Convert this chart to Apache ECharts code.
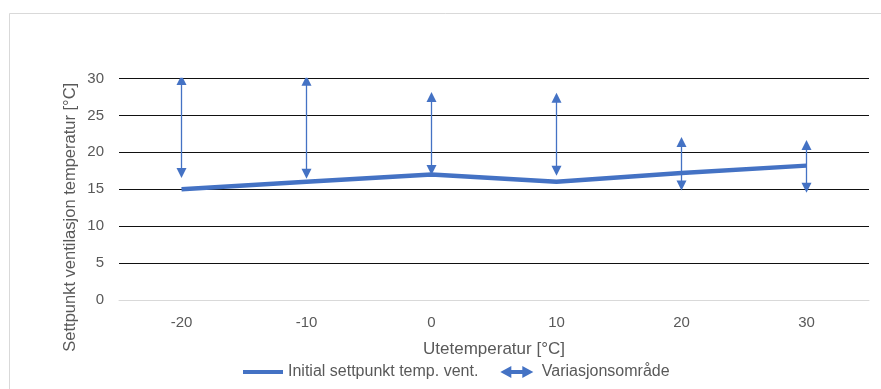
<!DOCTYPE html>
<html>
<head>
<meta charset="utf-8">
<script src="https://cdn.jsdelivr.net/npm/echarts@6/dist/echarts.min.js"></script>
<style>
  html, body { margin: 0; padding: 0; background: #fff; }
  #chart { width: 881px; height: 389px; }
</style>
</head>
<body>
<div id="chart"></div>
<script>
// Outdoor temperature categories (°C)
const categories = ['-20', '-10', '0', '10', '20', '30'];
// Initial ventilation setpoint per outdoor temperature (°C)
const setpointValues = [15, 16, 17, 16, 17.2, 18.2];
// Allowed variation range: lower and upper arrow ends (°C)
const rangeLow = [17.2, 17.1, 17.6, 17.5, 15.5, 15.2];
const rangeHigh = [29.8, 29.7, 27.5, 27.4, 21.4, 21.0];
// Y axis ticks
const yMin = 0, yMax = 30, yStep = 5;

const FONT = 'Liberation Sans, Arial, sans-serif';
const TEXT = '#595959';
const BLUE = '#4472C4';

const rangeData = categories.map((c, i) => ({
  coords: [[i, rangeLow[i]], [i, rangeHigh[i]]]
}));

const chart = echarts.init(document.getElementById('chart'), null, { renderer: 'canvas' });
chart.setOption({
  animation: false,
  backgroundColor: '#fff',
  textStyle: { fontFamily: FONT },
  graphic: [{
    type: 'rect',
    silent: true,
    shape: { x: 9.5, y: 13.5, width: 1000, height: 1000 },
    style: { fill: 'none', stroke: '#d9d9d9', lineWidth: 1 }
  }],
  grid: { left: 119, right: 12, top: 78.5, bottom: 89, outerBoundsMode: 'none' },
  xAxis: {
    type: 'category',
    data: categories,
    boundaryGap: true,
    name: 'Utetemperatur [°C]',
    nameLocation: 'middle',
    nameGap: 41,
    nameTextStyle: { color: TEXT, fontSize: 17, fontFamily: FONT },
    axisLine: { show: true, lineStyle: { color: '#d9d9d9', width: 1 } },
    axisTick: { show: false },
    axisLabel: { color: TEXT, fontSize: 15, margin: 15, fontFamily: FONT },
    splitLine: { show: false }
  },
  yAxis: {
    type: 'value',
    min: yMin,
    max: yMax,
    interval: yStep,
    name: 'Settpunkt ventilasjon temperatur [°C]',
    nameLocation: 'middle',
    nameGap: 40,
    nameMoveOverlap: false,
    nameTextStyle: { color: TEXT, fontSize: 16.5, fontFamily: FONT, padding: [0, 56, 0, 0] },
    axisLine: { show: false },
    axisTick: { show: false },
    axisLabel: { color: TEXT, fontSize: 15, margin: 15, fontFamily: FONT },
    splitLine: {
      show: true,
      lineStyle: { color: ['#d9d9d9', '#111', '#111', '#111', '#111', '#111', '#111'], width: 1 }
    }
  },
  legend: {
    left: 238,
    top: 359,
    itemWidth: 40,
    itemHeight: 12,
    itemGap: 22,
    textStyle: { color: TEXT, fontSize: 16, fontFamily: FONT },
    data: [
      { name: 'Initial settpunkt temp. vent.', icon: 'path://M0,0h40v4h-40z', itemStyle: { color: BLUE, borderWidth: 0 } },
      { name: 'Variasjonsområde', icon: 'path://M0,6L11,0L11,4L22,4L22,0L33,6L22,12L22,8L11,8L11,12Z', itemStyle: { color: BLUE, borderWidth: 0 } }
    ]
  },
  series: [
    {
      name: 'Initial settpunkt temp. vent.',
      type: 'line',
      data: setpointValues,
      showSymbol: false,
      symbol: 'none',
      lineStyle: { color: BLUE, width: 4.5 },
      itemStyle: { color: BLUE },
      z: 3
    },
    {
      name: 'Variasjonsområde',
      type: 'lines',
      coordinateSystem: 'cartesian2d',
      data: rangeData,
      symbol: ['triangle', 'triangle'],
      symbolSize: 10,
      lineStyle: { color: BLUE, width: 1.3, opacity: 1 },
      itemStyle: { color: BLUE },
      z: 4
    }
  ]
});
</script>
</body>
</html>
